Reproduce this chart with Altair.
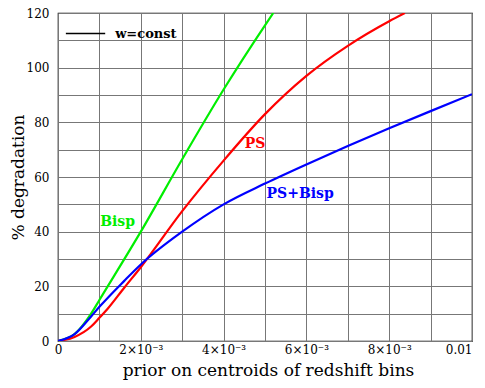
import altair as alt
import pandas as pd

# ---- data ----
x_bisp = [0, 0.0004, 0.0008, 0.001, 0.002, 0.003, 0.004, 0.005, 0.0052]
y_bisp = [0, 2.5, 10, 15, 40, 66.5, 92, 115.5, 120]

x_ps = [0, 0.0004, 0.0008, 0.001, 0.0012, 0.0016, 0.002, 0.003, 0.004, 0.005,
        0.006, 0.007, 0.008, 0.00838]
y_ps = [0, 1.5, 5.3, 8.5, 11.8, 19.5, 27, 47.5, 66, 83, 97, 108, 117, 120]

x_both = [0, 0.0004, 0.0008, 0.001, 0.0016, 0.002, 0.003, 0.004, 0.005, 0.006,
          0.007, 0.008, 0.009, 0.01]
y_both = [0, 2.5, 9, 12.5, 22, 28, 40, 50, 57.6, 64.6, 71.3, 77.8, 84.1, 90.3]

series_names = ["Bisp", "PS", "PS+Bisp"]
series_colors = ["#00ee00", "#ff0000", "#0000ff"]

# curve labels (data coordinates)
label_text = ["Bisp", "PS", "PS+Bisp"]
label_x = [0.00144, 0.00476, 0.00585]
label_y = [43.5, 72.2, 53.8]

# legend entry
legend_text = ["w=const"]
legend_line_x = [0.00019, 0.00114]
legend_line_y = [112.5]
legend_text_x = [0.00138]

x_ticks = [i / 1000 for i in range(11)]
y_ticks = list(range(0, 121, 10))

FONT = "DejaVu Serif"

def line_df(xs, ys, name):
    return pd.DataFrame({"x": xs, "y": ys, "series": name})

xscale = alt.Scale(domain=[0, 0.01], nice=False, zero=False)
yscale = alt.Scale(domain=[0, 120], nice=False)

x_axis = alt.Axis(
    values=x_ticks,
    labelExpr=("datum.value == 0 ? '0' : (datum.value > 0.0099 ? '0.01' : "
               "(round(datum.value*1000) % 2 == 0 ? round(datum.value*1000) + '×10⁻³' : ''))"),
    labelAlign={"condition": {"test": "datum.value > 0.0099", "value": "right"},
                "value": "center"},
    grid=True, tickSize=0, labelPadding=3, labelFont=FONT, labelFontSize=12,
    labelColor="black", domain=False, labelOverlap=False,
    title="prior on centroids of redshift bins", titleFont=FONT, titleFontSize=17,
    titleFontWeight="normal", titleColor="black",
    titleX=210, titleY=34, titleBaseline="alphabetic", titleAlign="center",
)
y_axis = alt.Axis(
    values=y_ticks,
    labelExpr="datum.value % 20 == 0 ? datum.label : ''",
    grid=True, tickSize=0, labelPadding=9, labelFont=FONT, labelFontSize=12,
    labelColor="black", domain=False, labelOverlap=False,
    title="% degradation", titleFont=FONT, titleFontSize=17,
    titleFontWeight="normal", titleColor="black",
    titleX=-40, titleY=164, titleAngle=270, titleAlign="center",
    titleBaseline="middle",
)

X = lambda f: alt.X(f, scale=xscale, axis=x_axis)
Y = lambda f: alt.Y(f, scale=yscale, axis=y_axis)

layers = []
for xs, ys, name, col in zip([x_bisp, x_ps, x_both], [y_bisp, y_ps, y_both],
                             series_names, series_colors):
    layers.append(
        alt.Chart(line_df(xs, ys, name))
        .mark_line(color=col, strokeWidth=2.2, clip=True, interpolate="monotone")
        .encode(x=X("x:Q"), y=Y("y:Q"), order="x:Q")
    )

labels_df = pd.DataFrame({"label": label_text, "x": label_x, "y": label_y,
                          "color": series_colors})
layers.append(
    alt.Chart(labels_df)
    .mark_text(font=FONT, fontSize=14, fontWeight="bold", align="center",
               baseline="middle")
    .encode(x=X("x:Q"), y=Y("y:Q"),
            text="label:N", color=alt.Color("color:N", scale=None))
)

leg_line_df = pd.DataFrame({"x": [legend_line_x[0]], "x2": [legend_line_x[1]],
                            "y": legend_line_y})
layers.append(
    alt.Chart(leg_line_df)
    .mark_rule(color="black", strokeWidth=1.5)
    .encode(x=X("x:Q"), x2="x2:Q", y=Y("y:Q"))
)
leg_text_df = pd.DataFrame({"t": legend_text, "x": legend_text_x, "y": legend_line_y})
layers.append(
    alt.Chart(leg_text_df)
    .mark_text(font=FONT, fontSize=13, fontWeight="bold", align="left",
               baseline="middle", color="black")
    .encode(x=X("x:Q"), y=Y("y:Q"), text="t:N")
)

chart = (
    alt.layer(*layers)
    .properties(width=414, height=328, autosize="none",
                padding={"left": 50, "top": 5, "right": 5, "bottom": 39},
                background="white")
    .configure_view(stroke="black", strokeWidth=1.2)
    .configure_axis(gridColor="#777777", gridWidth=1, gridOpacity=1)
)

chart.save("out.html", embed_options={"renderer": "svg", "actions": False})
